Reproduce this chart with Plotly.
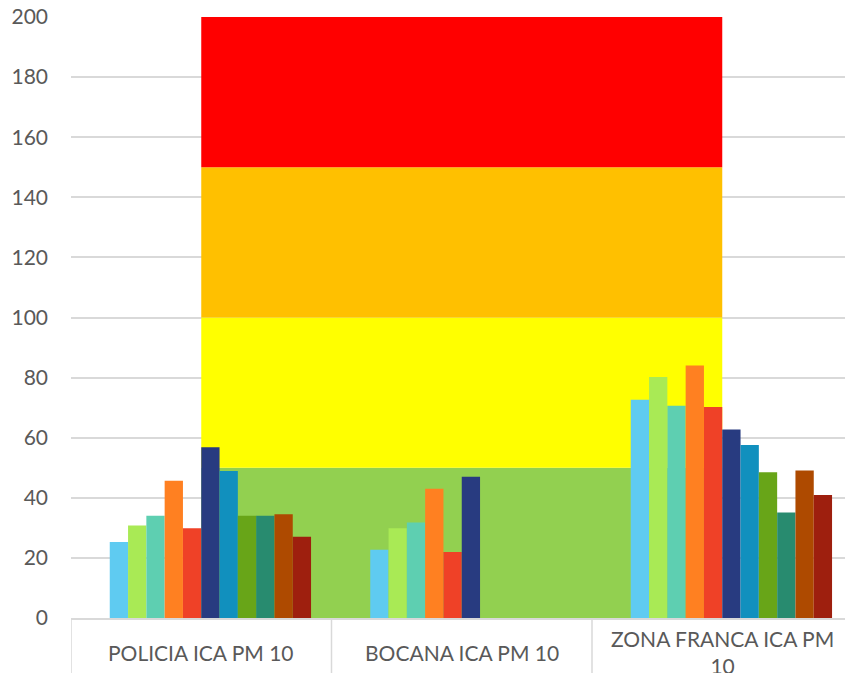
import plotly.graph_objects as go

# Stations (categories) and the ICA PM10 values of each series per station
stations = ["POLICIA ICA PM 10", "BOCANA ICA PM 10", "ZONA FRANCA ICA PM<br>10"]

series_values = [
    [25.3, 22.7, 72.6],
    [30.8, 29.9, 80.2],
    [34.0, 31.8, 70.6],
    [45.7, 43.0, 84.0],
    [29.9, 22.0, 70.2],
    [56.8, 47.0, 62.7],
    [48.9, None, 57.6],
    [34.0, None, 48.5],
    [34.0, None, 35.1],
    [34.5, None, 49.1],
    [27.0, None, 40.9],
]

series_colors = [
    "#5FCBF1", "#A9EA55", "#5ECFB1", "#FF8021", "#EF4127", "#283B80",
    "#1190BE", "#68A518", "#288B6F", "#AE4A00", "#9E1F0E",
]

# Air-quality bands (lower, upper) and their fill colours
band_lower = [0, 50, 100, 150]
band_upper = [50, 100, 150, 200]
band_colors = ["#92D050", "#FFFF00", "#FFC000", "#FF0000"]

y_ticks = [0, 20, 40, 60, 80, 100, 120, 140, 160, 180, 200]

x_pos = list(range(len(stations)))
n_slots = len(series_values) + 1
group_width = 0.843
bar_w = group_width / n_slots

fig = go.Figure()
for k, (vals, col) in enumerate(zip(series_values, series_colors)):
    fig.add_trace(go.Bar(
        x=x_pos, y=vals, width=bar_w,
        offset=-group_width / 2 + (k + 1) * bar_w,
        marker=dict(color=col, line=dict(width=0)),
        showlegend=False, hoverinfo="y",
    ))

# Bands span from the first station centre to the last one
for lo, hi, col in zip(band_lower, band_upper, band_colors):
    fig.add_shape(type="rect", xref="x", yref="y",
                  x0=x_pos[0], x1=x_pos[-1], y0=lo, y1=hi,
                  fillcolor=col, line=dict(width=0), layer="between")

# Category separators below the axis
for b in [-0.5, 0.5, 1.5, 2.5]:
    fig.add_shape(type="line", xref="x", yref="y domain",
                  x0=b, x1=b, y0=0, y1=-0.1,
                  line=dict(color="#D9D9D9", width=1.5))

font_family = "Lato, sans-serif"
for xi, name in zip(x_pos, stations):
    fig.add_annotation(x=xi, xref="x", y=-0.057, yref="paper",
                       text=name, showarrow=False, yanchor="middle",
                       font=dict(family=font_family, size=21, color="#595959"))

fig.update_layout(
    width=845, height=673,
    margin=dict(l=71, r=0, t=17, b=55),
    paper_bgcolor="white", plot_bgcolor="white",
    barmode="overlay",
    font=dict(family=font_family, size=21, color="#595959"),
)
fig.update_xaxes(range=[-0.5, -0.5 + 774 / 260.5], showticklabels=False,
                 showgrid=False, zeroline=False, showline=True,
                 linecolor="#D9D9D9", linewidth=1.5, ticks="")
fig.update_yaxes(range=[0, 200], tickvals=y_ticks, showgrid=True,
                 gridcolor="#D9D9D9", gridwidth=1.5, zeroline=False,
                 ticks="", ticklabelstandoff=22,
                 tickfont=dict(family=font_family, size=21, color="#595959"))

fig.write_html("out.html")
